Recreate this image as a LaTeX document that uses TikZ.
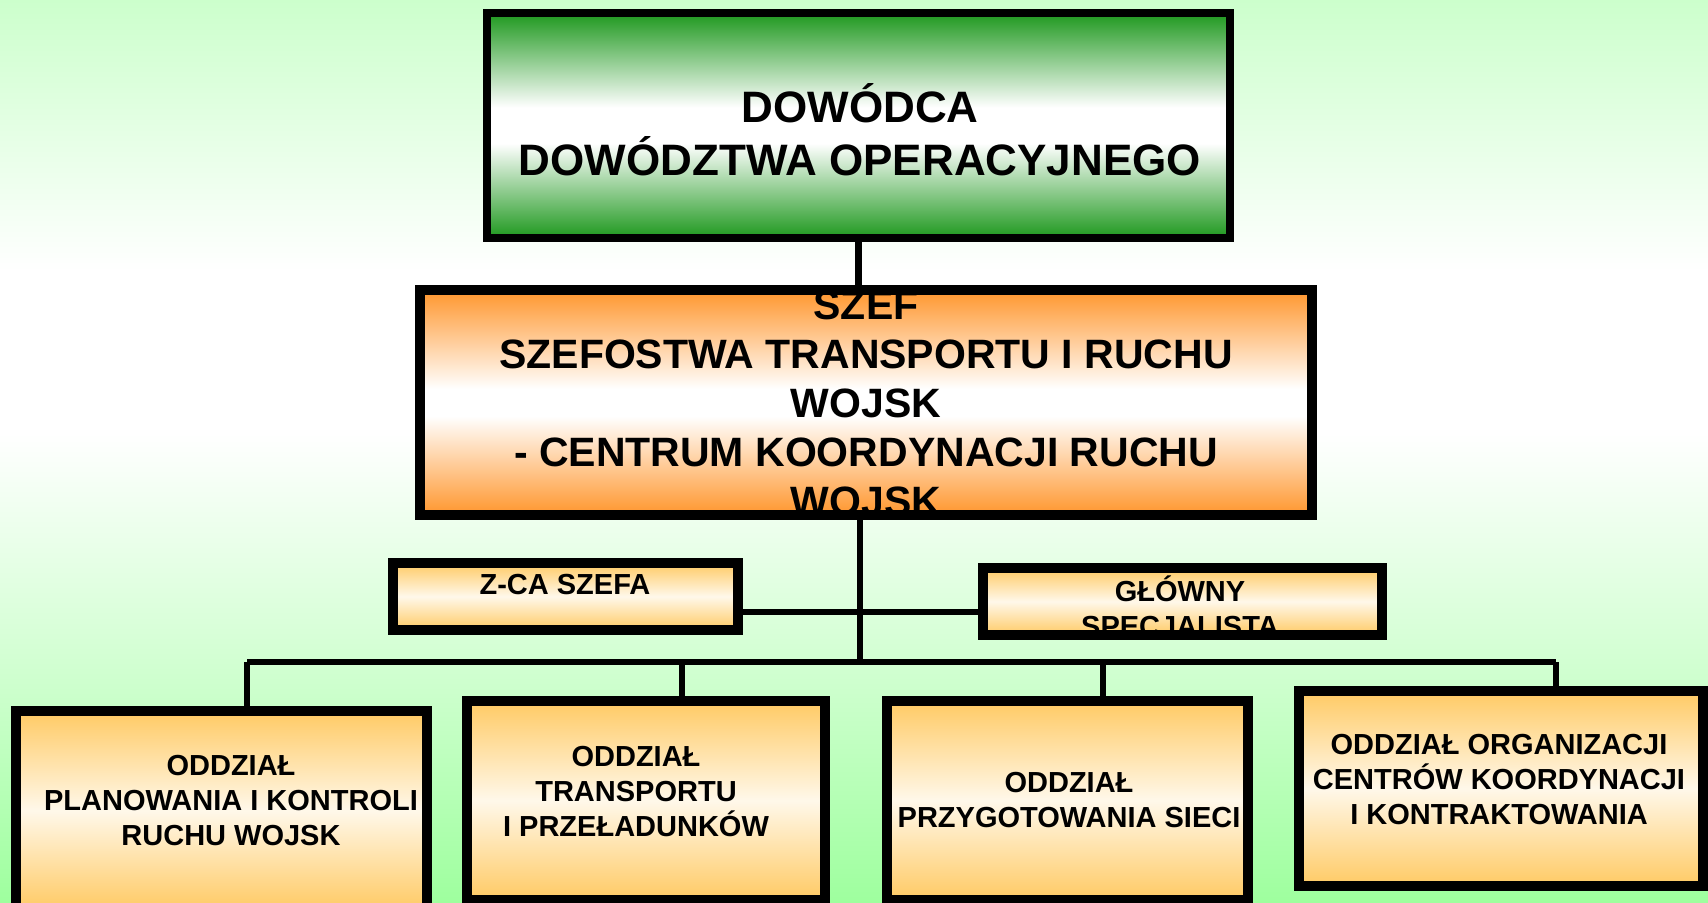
\documentclass[tikz,border=0pt]{standalone}
\usepackage{fontspec}
\setmainfont{Liberation Sans}
\definecolor{gboxc}{RGB}{30,152,30}
\definecolor{oboxc}{RGB}{255,150,45}
\definecolor{sboxc}{RGB}{255,202,100}
\definecolor{sboxmid}{RGB}{255,248,234}
\definecolor{bgtop}{RGB}{204,255,204}
\definecolor{bglow}{RGB}{205,255,205}
\definecolor{bgbot}{RGB}{158,255,158}
\pgfdeclareverticalshading{greenbox}{100bp}{color(0bp)=(gboxc); color(25bp)=(gboxc); color(46bp)=(white); color(54bp)=(white); color(75bp)=(gboxc); color(100bp)=(gboxc)}
\pgfdeclareverticalshading{orangebox}{100bp}{color(0bp)=(oboxc); color(25bp)=(oboxc); color(47bp)=(white); color(53bp)=(white); color(75bp)=(oboxc); color(100bp)=(oboxc)}
\pgfdeclareverticalshading{smallbox}{100bp}{color(0bp)=(sboxc); color(25bp)=(sboxc); color(50bp)=(sboxmid); color(75bp)=(sboxc); color(100bp)=(sboxc)}
\pgfdeclareverticalshading{bgshade}{100bp}{color(0bp)=(bgbot); color(25bp)=(bgbot); color(37bp)=(bglow); color(51bp)=(white); color(60bp)=(white); color(75bp)=(bgtop); color(100bp)=(bgtop)}
\begin{document}
\begin{tikzpicture}[x=0.5pt,y=-0.5pt,
  boxbase/.style={draw=black, rectangle, inner sep=0pt},
  gbox/.style={boxbase, shading=greenbox, line width=4pt},
  obox/.style={boxbase, shading=orangebox, line width=5pt},
  sbox/.style={boxbase, shading=smallbox, line width=5pt},
  bigtxt/.style={align=center, font=\bfseries\fontsize{22}{26.5}\selectfont, inner sep=0pt},
  midtxt/.style={align=center, font=\bfseries\fontsize{20.5}{24.5}\selectfont, inner sep=0pt},
  smalltxt/.style={align=center, font=\bfseries\fontsize{14.5}{17.5}\selectfont, inner sep=0pt},
  conn/.style={draw=black, line width=3.2pt}]
\useasboundingbox (0,0) rectangle (1708,903);
\shade[shading=bgshade] (0,0) rectangle (1708,903);
\begin{scope}
\clip (0,0) rectangle (1708,903);
% boxes
\node[gbox, minimum width=371.5pt, minimum height=112.5pt] (top) at (858.5,125.5) {};
\node[obox, minimum width=446pt, minimum height=112.5pt] (box2) at (866,402.5) {};
\node[sbox, minimum width=172.5pt, minimum height=33.5pt] (zca) at (565.5,596.5) {};
\node[sbox, minimum width=199.5pt, minimum height=33.5pt] (glow) at (1182.5,601.5) {};
\node[sbox, minimum width=205.5pt, minimum height=99.5pt] (b1) at (221.5,810.5) {};
\node[sbox, minimum width=179pt, minimum height=99.5pt] (b2) at (646,800.5) {};
\node[sbox, minimum width=180.5pt, minimum height=99.5pt] (b3) at (1067.5,800.5) {};
\node[sbox, minimum width=202pt, minimum height=97.5pt] (b4) at (1501,788.5) {};
% connectors
\coordinate (busc) at (860,662);
\coordinate (hl) at (860,612);
\coordinate (d1) at (247,662);
\coordinate (d2) at (682,662);
\coordinate (d3) at (1103,662);
\coordinate (d4) at (1556,662);
\draw[conn] (top.south) -- (top.south |- box2.north);
\draw[conn] (busc |- box2.south) -- (busc);
\draw[conn] (zca.east |- hl) -- (glow.west |- hl);
\draw[conn] (d1) -- (d4);
\draw[conn] (d1) -- (d1 |- b1.north);
\draw[conn] (d2) -- (d2 |- b2.north);
\draw[conn] (d3) -- (d3 |- b3.north);
\draw[conn] (d4) -- (d4 |- b4.north);
% texts
\node[bigtxt] (ttop) at (860,130) {DOWÓDCA\\DOWÓDZTWA OPERACYJNEGO};
\node[midtxt] (tbox2) at (866,403) {SZEF\\SZEFOSTWA TRANSPORTU I RUCHU\\WOJSK\\- CENTRUM KOORDYNACJI RUCHU\\WOJSK};
\node[smalltxt] (tzca) at (565,585) {Z-CA SZEFA};
\node[smalltxt] (tglow) at (1180,606) {GŁÓWNY\\SPECJALISTA};
\node[smalltxt] (tb1) at (231,801) {ODDZIAŁ\\PLANOWANIA I KONTROLI\\RUCHU WOJSK};
\node[smalltxt] (tb2) at (636,792) {ODDZIAŁ\\TRANSPORTU\\I PRZEŁADUNKÓW};
\node[smalltxt] (tb3) at (1069,800) {ODDZIAŁ\\PRZYGOTOWANIA SIECI};
\node[smalltxt] (tb4) at (1499,780) {ODDZIAŁ ORGANIZACJI\\CENTRÓW KOORDYNACJI\\I KONTRAKTOWANIA};
\end{scope}
\end{tikzpicture}
\end{document}
